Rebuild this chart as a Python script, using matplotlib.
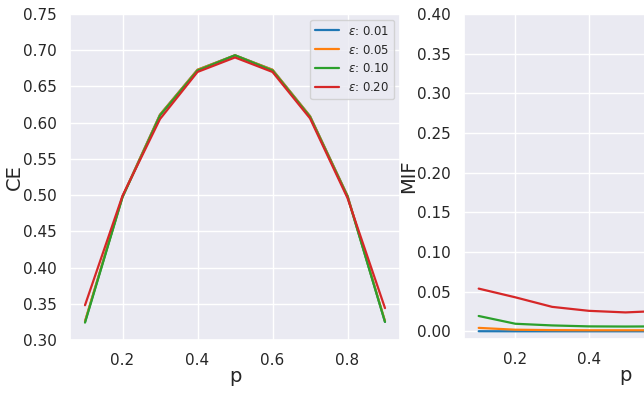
import numpy as np
import matplotlib
matplotlib.use("Agg")
import matplotlib.pyplot as plt
import seaborn as sns

sns.set_theme(style="darkgrid")

# probability values on x
p = [0.1, 0.2, 0.3, 0.4, 0.5, 0.6, 0.7, 0.8, 0.9]
eps_labels = ["0.01", "0.05", "0.10", "0.20"]

# CE per epsilon
ce_001 = [0.325, 0.498, 0.611, 0.673, 0.693, 0.673, 0.609, 0.499, 0.325]
ce_005 = [0.326, 0.498, 0.611, 0.673, 0.693, 0.673, 0.609, 0.499, 0.326]
ce_010 = [0.324, 0.497, 0.610, 0.672, 0.693, 0.672, 0.608, 0.498, 0.325]
ce_020 = [0.348, 0.499, 0.605, 0.670, 0.690, 0.670, 0.606, 0.496, 0.344]

# MIF per epsilon
mif_001 = [0.0003, 0.0002, 0.0002, 0.0002, 0.0002, 0.0002, 0.0002, 0.0002, 0.0003]
mif_005 = [0.0045, 0.0022, 0.0017, 0.0015, 0.0015, 0.0015, 0.0017, 0.0022, 0.0045]
mif_010 = [0.0195, 0.0097, 0.0076, 0.0064, 0.0062, 0.0064, 0.0076, 0.0097, 0.0195]
mif_020 = [0.054, 0.043, 0.031, 0.026, 0.024, 0.026, 0.031, 0.043, 0.054]

ce_all = [ce_001, ce_005, ce_010, ce_020]
mif_all = [mif_001, mif_005, mif_010, mif_020]
colors = sns.color_palette("tab10")[:4]

fig = plt.figure(figsize=(6.44, 3.93), dpi=100)
W, H = 644, 393
ax1 = fig.add_axes([70 / W, 1 - 340 / H, 330 / W, 326 / H])
ax2 = fig.add_axes([464 / W, 1 - 339 / H, 323 / W, 325 / H])

for vals, lab, c in zip(ce_all, eps_labels, colors):
    ax1.plot(p, vals, color=c, lw=1.6, label=r"$\varepsilon$: " + lab)
for vals, lab, c in zip(mif_all, eps_labels, colors):
    ax2.plot(p, vals, color=c, lw=1.6, label=r"$\varepsilon$: " + lab)

ax1.set_xlim(0.06, 0.94)
ax1.set_ylim(0.30, 0.75)
ax1.set_xticks([0.2, 0.4, 0.6, 0.8])
ax1.set_yticks(np.arange(0.30, 0.751, 0.05))
ax1.set_xlabel("p", fontsize=14, labelpad=-1)
ax1.set_ylabel("CE", fontsize=14, labelpad=-1)
ax1.legend(loc="upper right", fontsize=8.5)

ax2.set_xlim(0.06, 0.94)
ax2.set_ylim(-0.0095, 0.40)
ax2.set_xticks([0.2, 0.4, 0.6, 0.8])
ax2.set_yticks(np.arange(0.0, 0.401, 0.05))
ax2.set_xlabel("p", fontsize=14, labelpad=-1)
ax2.set_ylabel("MIF", fontsize=14, labelpad=-1)

for ax in (ax1, ax2):
    ax.tick_params(labelsize=11)

fig.savefig("out.png", dpi=100)
